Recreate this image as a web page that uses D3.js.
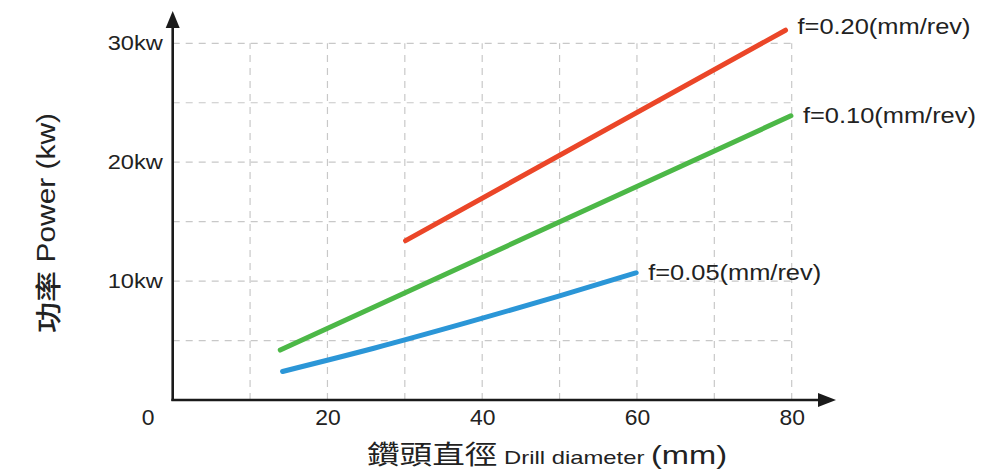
<!DOCTYPE html>
<html>
<head>
<meta charset="utf-8">
<script src="https://cdn.jsdelivr.net/npm/d3@7"></script>
<style>
  body { margin: 0; background: #fff; }
  text { font-family: "Liberation Sans", Arial, "Noto Sans CJK TC", sans-serif; fill: #222; }
</style>
</head>
<body>
<div id="chart"></div>
<script>
// data
const xTicks = [0, 20, 40, 60, 80]
const xGrid = [10, 20, 30, 40, 50, 60, 70, 80]
const yTicks = [10, 20, 30]
const yGrid = [5, 10, 15, 20, 25, 30]

const f020 = [[30.1, 13.4], [79.2, 31.1]]
const f010 = [[13.9, 4.2], [79.9, 23.9]]
const f005 = [[14.2, 2.4], [26, 4.35], [38, 6.5], [50, 8.75], [59.9, 10.7]]

const seriesNames = ["f=0.20(mm/rev)", "f=0.10(mm/rev)", "f=0.05(mm/rev)"]
const seriesData = [f020, f010, f005]
const colors = ["#eb4628", "#4cb847", "#2b96d7"]

const W = 988, H = 472

const svg = d3.select("#chart").append("svg").attr("width", W).attr("height", H)

const x = d3.scaleLinear().domain([0, 80]).range([172.7, 791.7])
const y = d3.scaleLinear().domain([0, 30]).range([400, 43.3])

// image is a bit wider than normal text, stretch the glyphs
function stretch(sel, k) {
  sel.each(function () {
    const w = this.getComputedTextLength()
    d3.select(this).attr("textLength", w * k).attr("lengthAdjust", "spacingAndGlyphs")
  })
}

//=========== grid ===========
svg.append("g").attr("class", "grid")
  .selectAll("line.v").data(xGrid).join("line")
  .attr("x1", d => x(d)).attr("x2", d => x(d))
  .attr("y1", y(0)).attr("y2", y(30))
  .attr("stroke", "#c8c8c8").attr("stroke-width", 1.2).attr("stroke-dasharray", "7,6")

svg.append("g").attr("class", "grid")
  .selectAll("line.h").data(yGrid).join("line")
  .attr("x1", x(0)).attr("x2", x(80))
  .attr("y1", d => y(d)).attr("y2", d => y(d))
  .attr("stroke", "#c8c8c8").attr("stroke-width", 1.2).attr("stroke-dasharray", "7,6")

//=========== axes ===========
const xAxis = d3.axisBottom(x).tickValues(xTicks).tickSize(0).tickPadding(9.8)
const gx = svg.append("g").attr("transform", `translate(0,${y(0)})`).call(xAxis)
gx.select(".domain").remove()
gx.selectAll("text").attr("font-size", 22).attr("font-family", "Liberation Sans, Arial, sans-serif").attr("fill", "#222")
gx.selectAll(".tick").filter(d => d === 0).select("text").attr("x", -25)
stretch(gx.selectAll("text"), 1.04)

const yAxis = d3.axisLeft(y).tickValues(yTicks).tickSize(0).tickPadding(10).tickFormat(d => d + "kw")
const gy = svg.append("g").attr("transform", `translate(${x(0)},0)`).call(yAxis)
gy.select(".domain").remove()
gy.selectAll("text").attr("font-size", 20.5).attr("font-family", "Liberation Sans, Arial, sans-serif").attr("fill", "#222")
stretch(gy.selectAll("text"), 1.15)

// axis lines with arrow heads
const axisColor = "#1a1a1a"
svg.append("line").attr("x1", x(0)).attr("x2", x(0)).attr("y1", y(0) + 1).attr("y2", 26)
  .attr("stroke", axisColor).attr("stroke-width", 2.6)
svg.append("path").attr("d", `M${x(0)},11 L${x(0) - 7},28 L${x(0) + 7},28 Z`).attr("fill", axisColor)

svg.append("line").attr("x1", x(0) - 1.3).attr("x2", 822).attr("y1", y(0)).attr("y2", y(0))
  .attr("stroke", axisColor).attr("stroke-width", 2.6)
svg.append("path").attr("d", `M836,${y(0)} L818,${y(0) - 7} L818,${y(0) + 7} Z`).attr("fill", axisColor)

//=========== lines ===========
const line = d3.line().x(d => x(d[0])).y(d => y(d[1])).curve(d3.curveMonotoneX)

svg.selectAll(".series").data(seriesData).join("path")
  .attr("class", "series")
  .attr("d", d => line(d))
  .attr("fill", "none")
  .attr("stroke", (d, i) => colors[i])
  .attr("stroke-width", 5)
  .attr("stroke-linecap", "round")

// labels at line ends
const labels = svg.selectAll(".lbl").data(seriesData).join("text")
  .attr("class", "lbl")
  .attr("x", d => x(d[d.length - 1][0]) + 12)
  .attr("y", (d, i) => y(d[d.length - 1][1]) - (i === 0 ? 4 : 0))
  .attr("dominant-baseline", "central")
  .attr("font-size", 22)
  .text((d, i) => seriesNames[i])
labels.attr("textLength", 173).attr("lengthAdjust", "spacingAndGlyphs")

//=========== titles ===========
const xt = svg.append("text").attr("x", 367).attr("y", 464)
xt.append("tspan").attr("font-family", "Noto Sans CJK TC, sans-serif").attr("font-size", 26).text("鑽頭直徑")
xt.append("tspan").attr("font-size", 19).attr("font-weight", 500).text(" Drill diameter ")
xt.append("tspan").attr("font-size", 26).text("(mm)")
xt.attr("textLength", 360).attr("lengthAdjust", "spacingAndGlyphs")

const yt = svg.append("text")
  .attr("transform", "translate(46,223) rotate(-90)")
  .attr("text-anchor", "middle")
  .attr("dominant-baseline", "central")
yt.append("tspan").attr("font-family", "Noto Sans CJK TC, sans-serif").attr("font-size", 26).attr("font-weight", 500).text("功率")
yt.append("tspan").attr("font-size", 25).text(" Power (kw)")
yt.attr("textLength", 220).attr("lengthAdjust", "spacingAndGlyphs")
</script>
</body>
</html>
